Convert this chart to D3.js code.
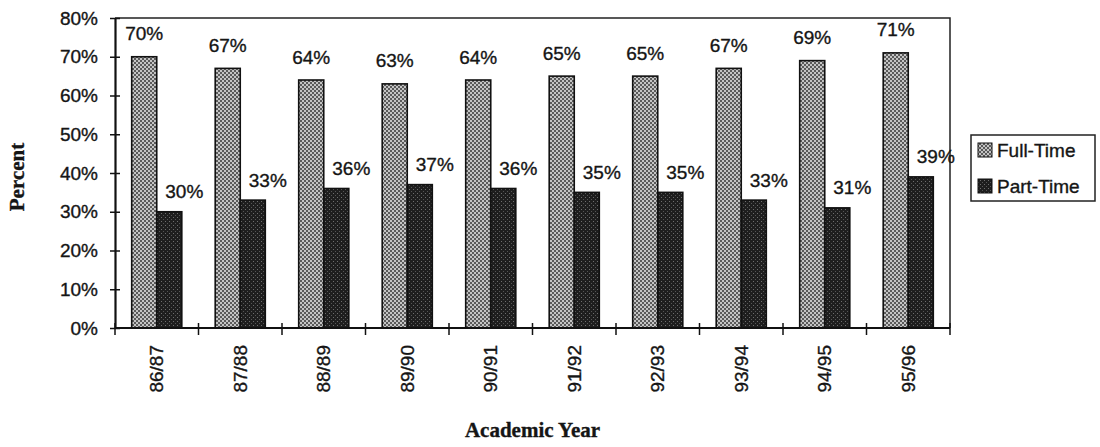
<!DOCTYPE html>
<html>
<head>
<meta charset="utf-8">
<script src="https://cdn.jsdelivr.net/npm/d3@7"></script>
<style>
  html, body { margin: 0; padding: 0; background: #fff; }
  svg { display: block; }
  text { font-family: "Liberation Sans", Arial, sans-serif; fill: #151515; stroke: #151515; stroke-width: 0.35px; }
</style>
</head>
<body>
<svg id="chart" width="1100" height="447"></svg>
<script>
const categories = ["86/87","87/88","88/89","89/90","90/91","91/92","92/93","93/94","94/95","95/96"];
const fullTime = [70, 67, 64, 63, 64, 65, 65, 67, 69, 71];
const partTime = [30, 33, 36, 37, 36, 35, 35, 33, 31, 39];
const seriesNames = ["Full-Time", "Part-Time"];
const yTicks = [0, 10, 20, 30, 40, 50, 60, 70, 80];

const svg = d3.select("#chart");
const L = 115, R = 950, T = 18, B = 328;

// patterns
const defs = svg.append("defs");
const pf = defs.append("pattern").attr("id","pFull").attr("patternUnits","userSpaceOnUse").attr("width",4).attr("height",4);
pf.append("rect").attr("width",4).attr("height",4).attr("fill","#c4c4c4");
pf.append("rect").attr("x",0).attr("y",0).attr("width",2).attr("height",2).attr("fill","#5a5a5a");
pf.append("rect").attr("x",2).attr("y",2).attr("width",2).attr("height",2).attr("fill","#5a5a5a");
const pp = defs.append("pattern").attr("id","pPart").attr("patternUnits","userSpaceOnUse").attr("width",4).attr("height",4);
pp.append("rect").attr("width",4).attr("height",4).attr("fill","#1e1e1e");
pp.append("rect").attr("x",1).attr("y",1).attr("width",1).attr("height",1).attr("fill","#6e6e6e");
pp.append("rect").attr("x",3).attr("y",3).attr("width",1).attr("height",1).attr("fill","#555");
const fills = ["url(#pFull)", "url(#pPart)"];

const x0 = d3.scaleBand().domain(categories).range([L, R]).paddingInner(0.4).paddingOuter(0.2);
const x1 = d3.scaleBand().domain(seriesNames).range([0, x0.bandwidth()]);
const y = d3.scaleLinear().domain([0, 80]).range([B, T]);
const step = x0.step();

const data = categories.map((c, i) => ({cat: c, vals: [fullTime[i], partTime[i]]}));

// plot frame (top & right thin)
svg.append("path")
  .attr("d", `M${L},${T}H${R}V${B}`)
  .attr("fill","none").attr("stroke","#222").attr("stroke-width",1.5);

// bars
const g = svg.append("g");
data.forEach(d => {
  d.vals.forEach((v, j) => {
    g.append("rect")
      .attr("x", x0(d.cat) + x1(seriesNames[j]))
      .attr("y", y(v))
      .attr("width", x1.bandwidth())
      .attr("height", y(0) - y(v))
      .attr("fill", fills[j])
      .attr("stroke", "#111")
      .attr("stroke-width", 1.6);
  });
  const fx = x0(d.cat) + x1(seriesNames[0]) + x1.bandwidth()/2;
  g.append("text").attr("x", fx).attr("y", y(d.vals[0]) - 23)
    .attr("text-anchor","middle").attr("dominant-baseline","central")
    .style("font-size","19px").text(d.vals[0] + "%");
  const px = x0(d.cat) + x1(seriesNames[1]) + x1.bandwidth()/2 + 15;
  g.append("text").attr("x", px).attr("y", y(d.vals[1]) - 20)
    .attr("text-anchor","middle").attr("dominant-baseline","central")
    .style("font-size","19px").text(d.vals[1] + "%");
});

// y axis
const yAxis = d3.axisLeft(y).tickValues(yTicks).tickFormat(v => v + "%").tickSize(0).tickPadding(17);
const ya = svg.append("g").attr("transform", `translate(${L},0)`).call(yAxis);
ya.select(".domain").attr("stroke","#111").attr("stroke-width",2.2);
ya.selectAll(".tick text").style("font-size","19px").style("font-family","'Liberation Sans', Arial, sans-serif").attr("fill","#151515");
ya.selectAll(".tick").append("line").attr("x1",-5).attr("x2",5).attr("stroke","#111").attr("stroke-width",1.5);

// x axis
const xa = svg.append("g").attr("transform", `translate(0,${B})`);
xa.append("line").attr("x1", L).attr("x2", R).attr("stroke","#111").attr("stroke-width",2.2);
const boundaries = d3.range(categories.length + 1).map(i => L + i * step);
xa.selectAll(".xt").data(boundaries).enter().append("line")
  .attr("x1", d => d).attr("x2", d => d).attr("y1", -5).attr("y2", 7)
  .attr("stroke","#111").attr("stroke-width",1.5);
xa.selectAll(".xl").data(categories).enter().append("text")
  .attr("transform", d => `translate(${x0(d) + x0.bandwidth()/2},17) rotate(-90)`)
  .attr("text-anchor","end").attr("dominant-baseline","central")
  .style("font-size","19px").text(d => d);

// axis titles
svg.append("text").attr("x", (L + R)/2).attr("y", 437)
  .attr("text-anchor","middle")
  .style("font-family","'Liberation Serif', 'Times New Roman', serif")
  .style("font-weight","bold").style("font-size","21px").text("Academic Year");
svg.append("text").attr("transform","translate(17,177) rotate(-90)")
  .attr("text-anchor","middle").attr("dominant-baseline","central")
  .style("font-family","'Liberation Serif', 'Times New Roman', serif")
  .style("font-weight","bold").style("font-size","21px").text("Percent");

// legend
const lg = svg.append("g").attr("transform","translate(971,135)");
lg.append("rect").attr("width",124).attr("height",66).attr("fill","#fff").attr("stroke","#222").attr("stroke-width",1.5);
seriesNames.forEach((s, i) => {
  const cy = 15 + i * 36;
  lg.append("rect").attr("x",7).attr("y",cy - 7).attr("width",14).attr("height",14)
    .attr("fill", fills[i]).attr("stroke","#111").attr("stroke-width",1);
  lg.append("text").attr("x",26).attr("y",cy).attr("dominant-baseline","central")
    .style("font-size","19px").text(s);
});
</script>
</body>
</html>
